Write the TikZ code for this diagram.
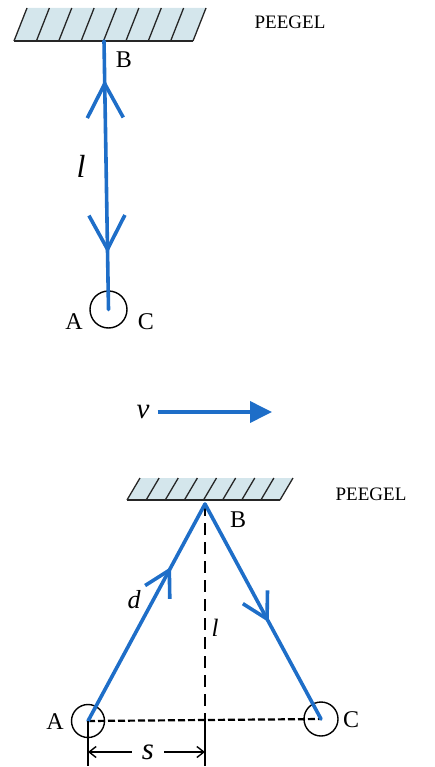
\documentclass[tikz,border=0pt]{standalone}
\usepackage{fontspec}
\setmainfont{Liberation Serif}
\usetikzlibrary{arrows.meta,decorations.markings,calc}
\definecolor{raybl}{RGB}{30,110,200}
\definecolor{mirfill}{RGB}{212,230,236}
\tikzset{
  bigbarb/.tip={Straight Barb[length=34pt,width=36pt,line width=3.6pt]},
  smallbarb/.tip={Straight Barb[length=25pt,width=28pt,line width=3.6pt]},
}

\begin{document}
\begin{tikzpicture}[x=1pt, y=-1pt,
  ray/.style={draw=raybl, line width=3.6pt, line cap=round},
  hatch/.style={draw=black!85, line width=1.3pt},
  ball/.style={draw, circle, line width=1.4pt, inner sep=0pt},
  lab/.style={inner sep=0pt, font=\fontsize{24}{24}\selectfont},
  mirlab/.style={inner sep=0pt, font=\fontsize{19}{19}\selectfont},
  sym/.style={inner sep=0pt, font=\fontsize{#1}{#1}\selectfont\itshape},
  fwdat/.style={postaction={decorate}, decoration={markings,
      mark=at position #1 with {\arrow{smallbarb}}}},
  dim/.style={line width=1.4pt, -{Straight Barb[length=7pt,width=11pt]}},
]
\useasboundingbox (0,0) rectangle (434,767);

\fill[mirfill] (14,41) -- (27,8) -- (206,8) -- (193,41) -- cycle;
\foreach \i in {0,...,8} \draw[hatch] ($(14,41)+(\i*22.375,0)$) -- ++(13,-33);
\draw[hatch] (14,41) -- (193,41);
\coordinate (b1) at (104,41);
\node[mirlab] (m1) at (290,22) {PEEGEL};
\node[ball, minimum width=36pt, minimum height=37pt] (ac1) at (108.5,309.5) {};
\node[lab] (bl1) at (124,60) {B};
\node[lab] (al1) at (74,322) {A};
\node[lab] (cl1) at (146,322) {C};
\node[sym=32] (l1) at (81,166) {l};
\draw[ray, postaction={decorate}, decoration={markings,
    mark=at position 0.145 with {\arrowreversed{bigbarb}},
    mark=at position 0.79 with {\arrow{bigbarb}}}] (b1) -- (ac1.center);

\node[sym=29] (v) at (143,412) {v};
\coordinate (vend) at (272,412);
\draw[ray, line width=3.8pt, line cap=butt, -{Triangle[length=22pt,width=21pt]}] ([xshift=8pt]v.east) -- (vend);

\fill[mirfill] (127,500) -- (140,478) -- (293,478) -- (280,500) -- cycle;
\foreach \i in {0,...,8} \draw[hatch] ($(127,500)+(\i*19.125,0)$) -- ++(13,-22);
\draw[hatch] (127,500) -- (280,500);
\coordinate (b2) at (205,504);
\node[mirlab] (m2) at (371,494) {PEEGEL};
\node[ball, minimum size=33pt] (a2) at (88,721) {};
\node[ball, minimum size=34pt] (c2) at (321,719) {};
\node[lab] (bl2) at (238,520) {B};
\node[lab] (al2) at (55,722) {A};
\node[lab] (cl2) at (351,720) {C};
\node[sym=26] (d) at (134,600) {d};
\node[sym=25] (l2) at (215,628) {l};
\coordinate (foot) at (b2 |- a2.center);
\draw[line width=1.4pt, dash pattern=on 12pt off 7pt] (b2) -- (foot);
\draw[line width=2.2pt, dash pattern=on 7pt off 3pt] (a2.center) -- (c2.center);
\draw[ray, fwdat=0.71] (a2.center) -- (b2);
\draw[ray, fwdat=0.55] (b2) -- (c2.center);

\coordinate (ta) at (a2.center |- 0,766);
\coordinate (tf) at (foot |- 0,766);
\draw[line width=1.4pt] (a2.center) -- (ta);
\draw[line width=1.4pt] (foot) -- (tf);
\node[sym=31, inner xsep=10pt] (s) at (148,752) {s};
\draw[dim] (s.west) -- (s.west -| ta);
\draw[dim] (s.east) -- (s.east -| tf);
\end{tikzpicture}
\end{document}
